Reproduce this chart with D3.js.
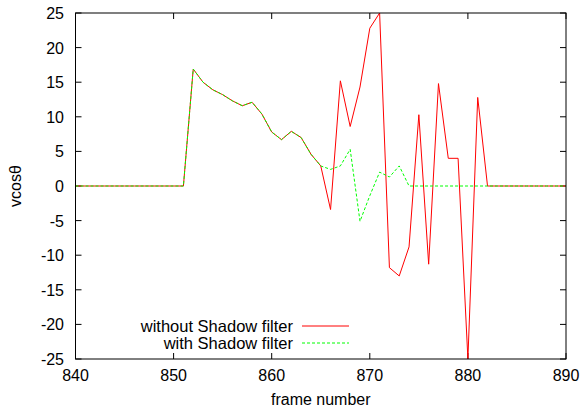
<!DOCTYPE html>
<html>
<head>
<meta charset="utf-8">
<script src="https://cdn.jsdelivr.net/npm/d3@7"></script>
<style>
  body { margin: 0; background: #fff; }
  text { font-family: "Liberation Sans", Arial, sans-serif; font-size: 16px; fill: #000; }
</style>
</head>
<body>
<div id="chart"></div>
<script>
// frame numbers 840..890
var frames = [840, 841, 842, 843, 844, 845, 846, 847, 848, 849,
              850, 851, 852, 853, 854, 855, 856, 857, 858, 859,
              860, 861, 862, 863, 864, 865, 866, 867, 868, 869,
              870, 871, 872, 873, 874, 875, 876, 877, 878, 879,
              880, 881, 882, 883, 884, 885, 886, 887, 888, 889, 890];

var withoutShadow = [0, 0, 0, 0, 0, 0, 0, 0, 0, 0,
                     0, 0, 16.9, 15.0, 13.9, 13.2, 12.3, 11.6, 12.1, 10.4,
                     7.8, 6.7, 7.9, 7.0, 4.6, 2.9, -3.4, 15.2, 8.6, 14.3,
                     22.8, 25.0, -11.8, -13.0, -8.8, 10.3, -11.3, 14.8, 4.0, 4.0,
                     -25, 12.8, 0, 0, 0, 0, 0, 0, 0, 0, 0];

var withShadow = [0, 0, 0, 0, 0, 0, 0, 0, 0, 0,
                  0, 0, 16.9, 15.0, 13.9, 13.2, 12.3, 11.6, 12.1, 10.4,
                  7.8, 6.7, 7.9, 7.0, 4.6, 2.9, 2.4, 2.9, 5.3, -5.1,
                  -1.4, 2.0, 1.3, 2.9, 0, 0, 0, 0, 0, 0,
                  0, 0, 0, 0, 0, 0, 0, 0, 0, 0, 0];

var xTicks = [840, 850, 860, 870, 880, 890];
var yTicks = [-25, -20, -15, -10, -5, 0, 5, 10, 15, 20, 25];

var width = 583, height = 409;
var pLeft = 75.5, pRight = 566, pTop = 13, pBottom = 359;

var svg = d3.select("#chart").append("svg")
    .attr("width", width)
    .attr("height", height);

var x = d3.scaleLinear().domain([840, 890]).range([pLeft, pRight]);
var y = d3.scaleLinear().domain([-25, 25]).range([pBottom, pTop]);

// ticks (gnuplot style: inward, mirrored)
var tickLen = 6;
var axes = svg.append("g").attr("stroke", "#000").attr("stroke-width", 1);

xTicks.forEach(function (t) {
    axes.append("line").attr("x1", x(t)).attr("x2", x(t)).attr("y1", pBottom).attr("y2", pBottom - tickLen);
    axes.append("line").attr("x1", x(t)).attr("x2", x(t)).attr("y1", pTop).attr("y2", pTop + tickLen);
});
yTicks.forEach(function (t) {
    axes.append("line").attr("x1", pLeft).attr("x2", pLeft + tickLen).attr("y1", y(t)).attr("y2", y(t));
    axes.append("line").attr("x1", pRight).attr("x2", pRight - tickLen).attr("y1", y(t)).attr("y2", y(t));
});

svg.selectAll(".xlab").data(xTicks).enter().append("text")
    .attr("x", function (d) { return x(d); })
    .attr("y", 381)
    .attr("text-anchor", "middle")
    .text(function (d) { return d; });

svg.selectAll(".ylab").data(yTicks).enter().append("text")
    .attr("x", 64)
    .attr("y", function (d) { return y(d) + 6; })
    .attr("text-anchor", "end")
    .text(function (d) { return d; });

svg.append("text")
    .attr("x", (pLeft + pRight) / 2)
    .attr("y", 405)
    .attr("text-anchor", "middle")
    .text("frame number");

svg.append("text")
    .attr("transform", "translate(21," + y(0) + ") rotate(-90)")
    .attr("text-anchor", "middle")
    .text("vcosθ");

// lines
var line = function (vals) {
    return d3.line()
        .x(function (d, i) { return x(frames[i]); })
        .y(function (d) { return y(d); })(vals);
};

svg.append("path")
    .attr("d", line(withoutShadow))
    .attr("fill", "none")
    .attr("stroke", "#ff0000")
    .attr("stroke-width", 1);

svg.append("path")
    .attr("d", line(withShadow))
    .attr("fill", "none")
    .attr("stroke", "#00ff00")
    .attr("stroke-width", 1)
    .attr("stroke-dasharray", "3,2");

// legend
svg.append("text").attr("x", 293).attr("y", 332).attr("text-anchor", "end")
    .style("font-size", "16.5px").text("without Shadow filter");
svg.append("line").attr("x1", 302).attr("x2", 349).attr("y1", 326).attr("y2", 326)
    .attr("stroke", "#ff0000").attr("stroke-width", 1);
svg.append("text").attr("x", 293).attr("y", 349).attr("text-anchor", "end")
    .style("font-size", "16.5px").text("with Shadow filter");
svg.append("line").attr("x1", 302).attr("x2", 349).attr("y1", 343).attr("y2", 343)
    .attr("stroke", "#00ff00").attr("stroke-width", 1).attr("stroke-dasharray", "3,2");

// frame
svg.append("rect")
    .attr("x", pLeft).attr("y", pTop)
    .attr("width", pRight - pLeft).attr("height", pBottom - pTop)
    .attr("fill", "none").attr("stroke", "#000").attr("stroke-width", 1);
</script>
</body>
</html>
